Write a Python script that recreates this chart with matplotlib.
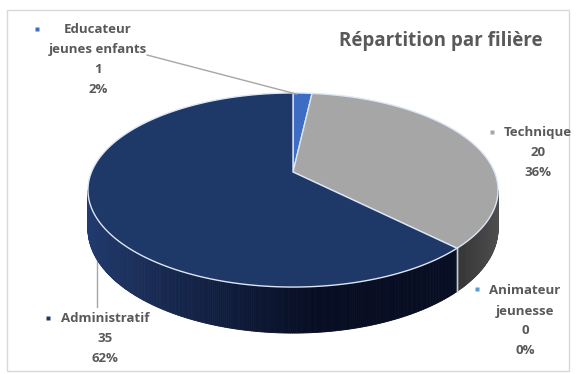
import numpy as np
import matplotlib.pyplot as plt
from matplotlib.patches import Polygon, Rectangle
from matplotlib.colors import to_rgb

# Données
categories = ['Educateur\njeunes enfants', 'Technique', 'Animateur\njeunesse', 'Administratif']
values = [1, 20, 0, 35]
top_colors = ['#3d6cc4', '#a6a6a6', '#5b9bd5', '#1e3867']
side_light = ['#2f57a0', '#4e4e4e', '#4a80b8', '#223c70']
side_dark = ['#1d3a75', '#323232', '#3a6ea5', '#070d22']
title = 'Répartition par filière'

# Géométrie du camembert 3D (perspective simple)
CX, CY = 293, 172
RX, RY, PERSP = 201.5, 93.7, 0.1856
DEPTH = 37.5
TEXT = '#595959'


def projeter(theta, chute=0.0):
    # theta : angle horaire depuis midi
    X = np.sin(theta)
    Z = -np.cos(theta)
    w = 1 - PERSP * Z
    return CX + RX * X / w, CY + (RY * Z + chute) / w


def arc(a0, a1, chute=0.0):
    n = max(int(np.degrees(a1 - a0)), 2) + 1
    t = np.linspace(a0, a1, n)
    x, y = projeter(t, chute)
    return np.column_stack([x, y])


def melange(c1, c2, t):
    c1, c2 = np.array(to_rgb(c1)), np.array(to_rgb(c2))
    return tuple(c1 + (c2 - c1) * t)


fig = plt.figure(figsize=(5.77, 3.74), dpi=100)
ax = fig.add_axes([0, 0, 1, 1])
ax.set_xlim(0, 577)
ax.set_ylim(374, 0)
ax.axis('off')

ax.add_patch(Rectangle((7, 10), 562, 361, fill=False, ec='#d9d9d9', lw=1, zorder=0))

total = sum(values)
bornes = np.concatenate([[0], np.cumsum(values)]) / total * 2 * np.pi

# faces latérales visibles (devant)
vis0 = np.arccos(-PERSP)
vis1 = 2 * np.pi - vis0
x_gauche, x_droite = projeter(vis1)[0], projeter(vis0)[0]
for i in range(len(values)):
    a0, a1 = max(bornes[i], vis0), min(bornes[i + 1], vis1)
    if a1 <= a0:
        continue
    t = np.linspace(a0, a1, max(int(np.degrees(a1 - a0)) * 2, 2) + 1)
    for k in range(len(t) - 1):
        haut = arc(t[k], t[k + 1])
        bas = arc(t[k], t[k + 1], DEPTH)[::-1]
        xm = projeter((t[k] + t[k + 1]) / 2)[0]
        if i == 3:
            f = np.clip((xm - x_gauche) / 230, 0, 1) ** 0.8
        else:
            f = np.clip((x_droite - xm) / 45, 0, 1)
        col = melange(side_light[i], side_dark[i], f)
        ax.add_patch(Polygon(np.vstack([haut, bas]), closed=True, fc=col, ec=col, lw=0.6, zorder=2))

# trait clair à la jonction des faces latérales
for b in bornes[1:-1]:
    if vis0 < b < vis1:
        x0, y0 = projeter(b)
        x1, y1 = projeter(b, DEPTH)
        ax.plot([x0, x1], [y0, y1], color='#c8cbd2', lw=1, zorder=3)

# faces supérieures
for i in range(len(values)):
    if values[i] == 0:
        continue
    pts = np.vstack([[CX, CY], arc(bornes[i], bornes[i + 1])])
    ax.add_patch(Polygon(pts, closed=True, fc=top_colors[i], ec='#dce6f5', lw=1, zorder=4))

# étiquettes (une ligne tous les 20 px)
style = dict(ha='center', va='center', fontsize=9.5, fontweight='bold', color=TEXT,
             family='Open Sans', zorder=6)
pct = [round(v / total * 100) for v in values]
positions = [(98, 29), (538, 132), (525, 291), (105, 318)]
marqueurs = [(37, 29), (492, 132), (477, 289), (48, 318)]
for i, cat in enumerate(categories):
    lignes = cat.split('\n') + [str(values[i]), f'{pct[i]}%']
    x, y = positions[i]
    for k, txt in enumerate(lignes):
        ax.text(x, y + 20 * k, txt, **style)
    ax.plot(*marqueurs[i], marker='s', ms=3.5, color=top_colors[i], mec='none', zorder=6)

# lignes de rappel
xe, ye = projeter((bornes[0] + bornes[1]) / 2)
ax.plot([147, xe - 6], [55, ye + 1], color='#a6a6a6', lw=1, zorder=5)
ax.plot([97, 97], [307, 230], color='#a6a6a6', lw=1, zorder=1)

ax.text(441, 41, title, ha='center', va='center', fontsize=13.5, fontweight='bold',
        color=TEXT, family='Open Sans')

fig.savefig('out.png', dpi=100)
